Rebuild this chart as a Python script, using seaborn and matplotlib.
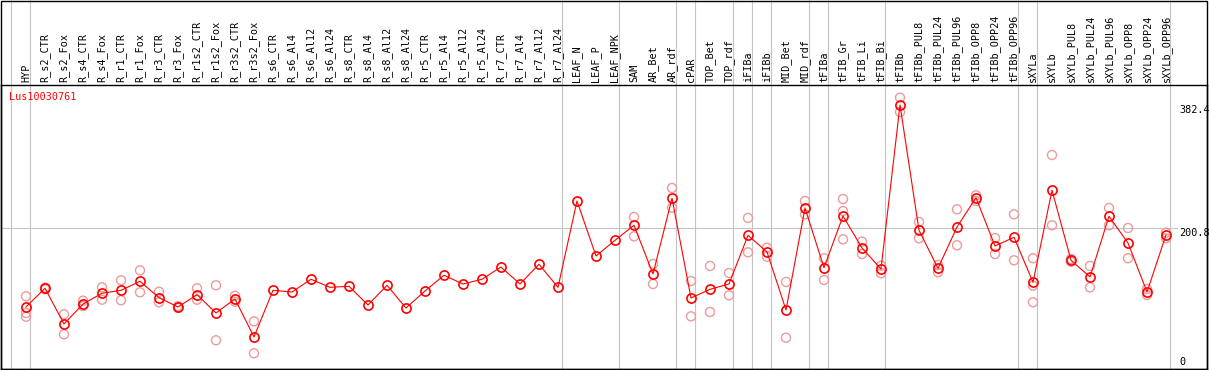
import pandas as pd
import matplotlib
matplotlib.use("Agg")
import matplotlib.pyplot as plt
import matplotlib.transforms as mtransforms
from matplotlib.patches import Rectangle
import seaborn as sns

gene = "Lus10030761"

categories = [
    "HYP", "R_s2_CTR", "R_s2_Fox", "R_s4_CTR", "R_s4_Fox", "R_r1_CTR", "R_r1_Fox",
    "R_r3_CTR", "R_r3_Fox", "R_r1s2_CTR", "R_r1s2_Fox", "R_r3s2_CTR", "R_r3s2_Fox",
    "R_s6_CTR", "R_s6_Al4", "R_s6_Al12", "R_s6_Al24", "R_s8_CTR", "R_s8_Al4",
    "R_s8_Al12", "R_s8_Al24", "R_r5_CTR", "R_r5_Al4", "R_r5_Al12", "R_r5_Al24",
    "R_r7_CTR", "R_r7_Al4", "R_r7_Al12", "R_r7_Al24", "LEAF_N", "LEAF_P", "LEAF_NPK",
    "SAM", "AR_Bet", "AR_rdf", "cPAR", "TOP_Bet", "TOP_rdf", "iFIBa", "iFIBb",
    "MID_Bet", "MID_rdf", "tFIBa", "tFIB_Gr", "tFIB_Li", "tFIB_Bi", "tFIBb",
    "tFIBb_PUL8", "tFIBb_PUL24", "tFIBb_PUL96", "tFIBb_OPP8", "tFIBb_OPP24",
    "tFIBb_OPP96", "sXYLa", "sXYLb", "sXYLb_PUL8", "sXYLb_PUL24", "sXYLb_PUL96",
    "sXYLb_OPP8", "sXYLb_OPP24", "sXYLb_OPP96",
]

# group sizes -> vertical separators after each group
group_sizes = [1, 28, 3, 3, 1, 2, 1, 1, 2, 1, 3, 7, 1, 7]

means = [
    84.2, 111.8, 59.1, 88.6, 104.4, 108.8, 122.1, 97.9, 84.2, 102.3, 75.3, 96.0, 39.9,
    108.8, 106.3, 125.1, 113.2, 114.7, 87.1, 116.2, 82.7, 107.8, 131.0, 118.1, 125.1,
    143.2, 118.1, 147.2, 113.2, 240.7, 159.5, 182.6, 204.8, 132.9, 244.7, 97.4, 110.3,
    118.1, 190.0, 165.4, 79.7, 230.3, 142.2, 218.5, 171.3, 140.3, 382.4, 197.4, 141.3,
    202.3, 245.5, 174.2, 187.1, 120.6, 256.5, 153.1, 128.5, 218.1, 178.7, 106.3, 190.5,
]

replicates = [
    [100.0, 75.3, 69.8], [112.7, 110.3], [73.4, 43.9], [93.5, 85.6], [113.2, 94.9],
    [123.6, 94.1], [138.3, 105.9], [106.7, 91.1], [85.5, 83.0], [111.8, 94.9],
    [116.2, 35.0], [100.8, 92.0], [63.0, 15.8],
    [], [], [], [], [], [], [], [], [], [], [], [], [], [], [], [],
    [], [], [],
    [217.0, 188.5], [147.7, 118.1], [259.9, 230.8], [122.5, 70.4], [144.7, 76.8],
    [134.4, 101.4], [215.6, 164.9], [171.7, 158.4], [121.1, 38.8], [240.7, 221.0],
    [156.1, 124.0], [243.6, 225.9, 184.1], [180.6, 162.4], [145.1, 133.9],
    [393.2, 372.1], [209.7, 185.6], [146.2, 135.4], [228.4, 175.3], [249.1, 240.7],
    [186.0, 162.4], [221.0, 153.1], [156.1, 115.6, 91.1], [308.6, 204.8],
    [155.0, 151.0], [144.7, 113.2], [230.3, 204.8], [200.8, 156.1], [110.7, 101.9],
    [193.9, 185.6],
]

y_labels = [0, 200.8, 382.4]
grid_value = 200.8

# tables for seaborn
mean_df = pd.DataFrame({"pos": range(len(categories)), "value": means})
rep_df = pd.DataFrame(
    [(i, v) for i, reps in enumerate(replicates) for v in reps],
    columns=["pos", "value"],
)

W, H = 1209, 370
fig = plt.figure(figsize=(W / 100, H / 100), dpi=100)
# plot area in pixels: x 1..1207, y 85..368.5 (from top)
ax = fig.add_axes([1 / W, 1 - 368.5 / H, 1206 / W, 283.5 / H])

# scale: 26 px for first category, 19 px per category
ax.set_xlim((1 - 26) / 19, (1207 - 26) / 19)
px_per_unit = 123 / 181.6
ax.set_ylim(-(368.5 - 364) / px_per_unit, (364 - 85) / px_per_unit)

mono = "DejaVu Sans Mono"

# separators
bounds = [-1]
for g in group_sizes:
    bounds.append(bounds[-1] + g)
for b in bounds:
    ax.axvline(b + 0.22, ymin=0, ymax=368.5 / 283.5, clip_on=False,
               color="#c4c4c4", lw=0.8, zorder=0)
ax.axhline(grid_value, xmin=0, xmax=(1177 - 1) / 1206, color="#c4c4c4", lw=0.8, zorder=0)

sns.scatterplot(data=rep_df, x="pos", y="value", ax=ax, marker="o", s=42,
                facecolor="none", edgecolor="#ec9a9a", linewidth=1.0, zorder=2,
                legend=False)
sns.lineplot(data=mean_df, x="pos", y="value", ax=ax, sort=False, color="red",
             lw=0.8, marker="o", markersize=6.6, markerfacecolor="none",
             markeredgecolor="red", markeredgewidth=1.2, zorder=3, legend=False)

ax.set_xticks(range(len(categories)))
ax.set_xticklabels(categories, rotation=90, fontfamily=mono, fontsize=7.3)
ax.xaxis.tick_top()
ax.tick_params(axis="x", length=0, pad=2, top=True, labeltop=True,
               bottom=False, labelbottom=False)
ax.set_yticks([])
ax.set_xlabel("")
ax.set_ylabel("")
for s in ax.spines.values():
    s.set_linewidth(1.0)
    s.set_color("black")

ytr = ax.get_yaxis_transform()
xa = (1179 - 1) / 1206
for v in y_labels:
    if v == 0:
        tr = ytr + mtransforms.ScaledTranslation(0, -3 / 100, fig.dpi_scale_trans)
        ax.text(xa, v, "0", transform=tr, ha="left", va="bottom",
                fontfamily=mono, fontsize=7.3, color="black", clip_on=False)
    else:
        ax.text(xa, v, str(v), transform=ytr, ha="left", va="top",
                fontfamily=mono, fontsize=7.3, color="black", clip_on=False)

ax.text((9.3 - 1) / 1206, (368.5 - 97) / 283.5, gene, transform=ax.transAxes,
        ha="left", va="center", color="red", fontfamily=mono, fontsize=7.3)

# outer frame around labels and plot
fig.add_artist(Rectangle((1 / W, 1 - 368.5 / H), 1206 / W, 368 / H,
                         transform=fig.transFigure, fill=False, lw=1.0,
                         ec="black"))

fig.savefig("out.png", dpi=100, facecolor="white")
